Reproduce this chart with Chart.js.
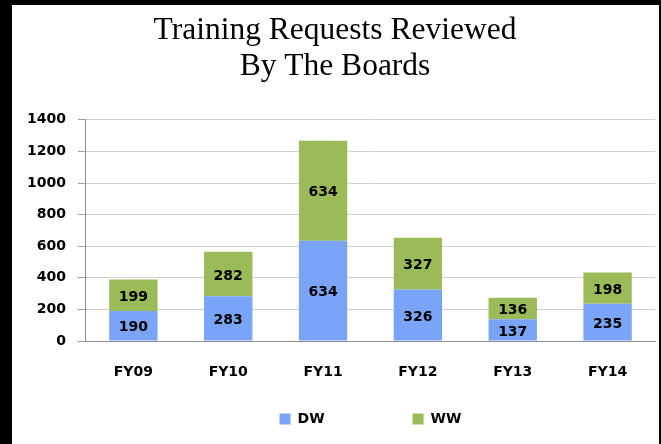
<!DOCTYPE html>
<html>
<head>
<meta charset="utf-8">
<script src="https://cdn.jsdelivr.net/npm/chart.js@4/dist/chart.umd.min.js"></script>
<style>
  html, body { margin: 0; padding: 0; background: #000; }
  #wrap { position: absolute; left: 12px; top: 5px; width: 647px; height: 439px; background: #fff; }
</style>
</head>
<body>
<div id="wrap"><canvas id="boardsChart"></canvas></div>
<script>
const fiscalYears = ['FY09', 'FY10', 'FY11', 'FY12', 'FY13', 'FY14'];
const dwValues = [190, 283, 634, 326, 137, 235];
const wwValues = [199, 282, 634, 327, 136, 198];
const titleLines = ['Training Requests Reviewed', 'By The Boards'];

const labelFont = { family: '"DejaVu Sans", sans-serif', size: 14, weight: 'bold' };

// writes the value in the middle of each bar segment
const barLabels = {
  id: 'barLabels',
  afterDatasetsDraw(chart) {
    const ctx = chart.ctx;
    ctx.save();
    ctx.font = 'bold 14px "DejaVu Sans", sans-serif';
    ctx.fillStyle = '#000';
    ctx.textAlign = 'center';
    ctx.textBaseline = 'middle';
    chart.data.datasets.forEach((ds, i) => {
      chart.getDatasetMeta(i).data.forEach((bar, j) => {
        const { x, y, base } = bar.getProps(['x', 'y', 'base'], true);
        ctx.fillText(ds.data[j], x, (y + base) / 2 + 2);
      });
    });
    ctx.restore();
  }
};

const chart = new Chart(document.getElementById('boardsChart'), {
  type: 'bar',
  data: {
    labels: fiscalYears,
    datasets: [{
      label: 'DW',
      data: dwValues,
      backgroundColor: '#79a4f7',
      barPercentage: 0.51,
      categoryPercentage: 1
    }, {
      label: 'WW',
      data: wwValues,
      backgroundColor: '#9bbb59',
      barPercentage: 0.51,
      categoryPercentage: 1
    }]
  },
  options: {
    responsive: true,
    maintainAspectRatio: false,
    animation: false,
    layout: {
      padding: { left: 3, right: 4, top: 0, bottom: 8 }
    },
    scales: {
      x: {
        stacked: true,
        grid: { display: false, drawTicks: false },
        border: { display: true, color: '#8c8c8c' },
        ticks: { color: '#000', font: labelFont, padding: 23 },
        afterFit: (scale) => { scale.height = 61; }
      },
      y: {
        stacked: true,
        min: 0,
        max: 1400,
        ticks: { stepSize: 200, color: '#000', font: labelFont, padding: 12, callback: (value) => String(value) },
        grid: { color: '#d0d0d0', tickColor: '#a0a0a0', tickLength: 8 },
        border: { color: '#8c8c8c' }
      }
    },
    plugins: {
      title: {
        display: true,
        text: titleLines,
        color: '#000',
        font: { family: '"Liberation Serif", "Times New Roman", serif', size: 31.5, weight: 'normal', lineHeight: 1.14 },
        padding: { top: 8, bottom: 35 }
      },
      legend: {
        position: 'bottom',
        fullSize: false,
        labels: {
          color: '#000',
          font: labelFont,
          boxWidth: 11,
          boxHeight: 11,
          padding: 10,
          generateLabels: (c) => {
            const items = Chart.defaults.plugins.legend.labels.generateLabels(c);
            items[0].text = items[0].text + ' '.repeat(16);
            return items;
          }
        }
      },
      tooltip: { enabled: false }
    }
  },
  plugins: [barLabels]
});
</script>
</body>
</html>
